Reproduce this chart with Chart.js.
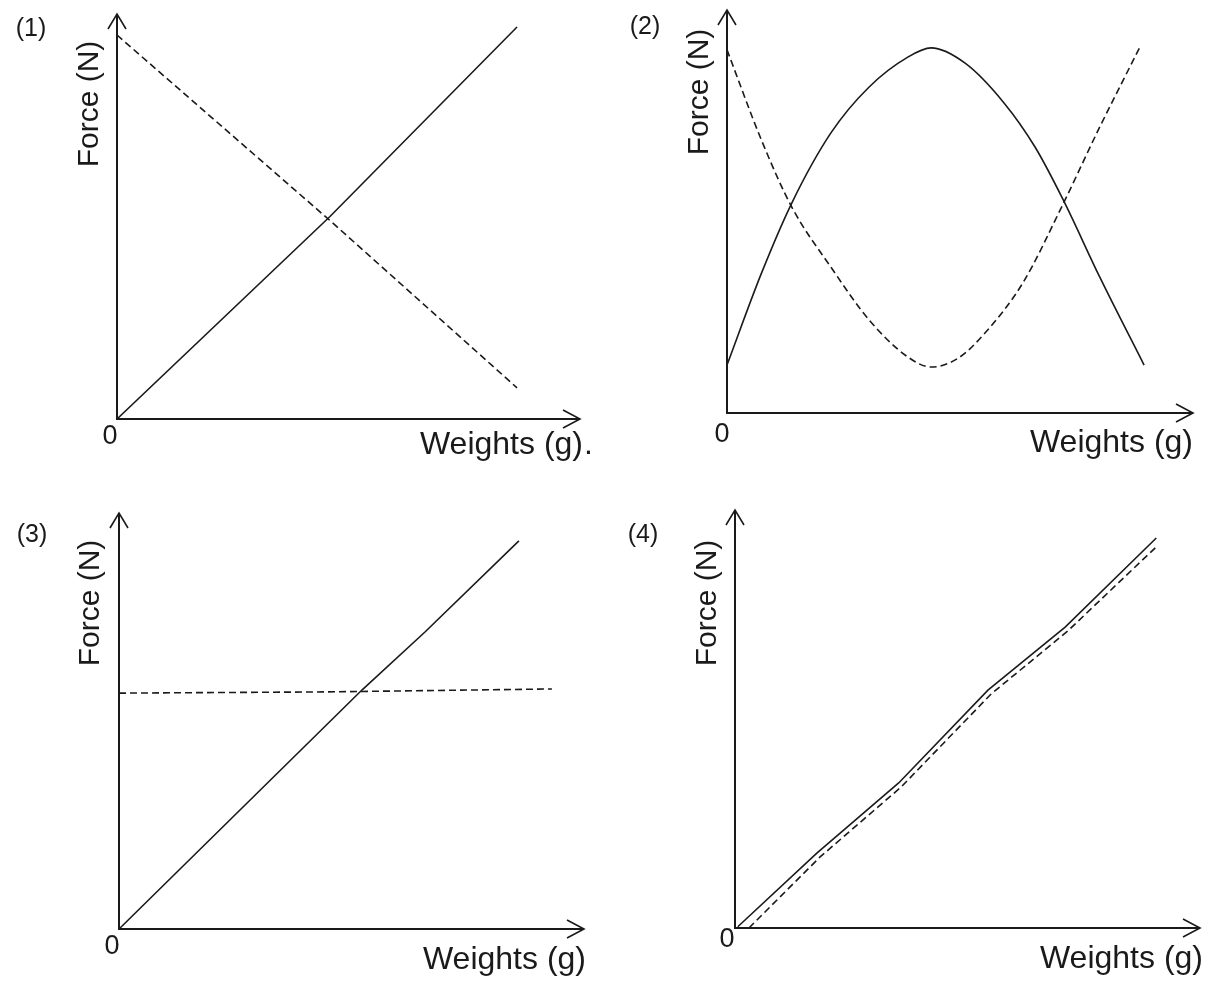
<!DOCTYPE html>
<html>
<head>
<meta charset="utf-8">
<script src="https://cdn.jsdelivr.net/npm/chart.js@4/dist/chart.umd.min.js"></script>
<style>
  html, body { margin: 0; padding: 0; background: #fff; }
  body { position: relative; width: 1208px; height: 989px; overflow: hidden; }
  canvas { position: absolute; }
</style>
</head>
<body>
<canvas id="g1" width="604" height="495" style="left:0;top:0"></canvas>
<canvas id="g2" width="604" height="495" style="left:604px;top:0"></canvas>
<canvas id="g3" width="604" height="494" style="left:0;top:495px"></canvas>
<canvas id="g4" width="604" height="494" style="left:604px;top:495px"></canvas>
<script>
'use strict';

// axis range (arbitrary units, no ticks shown)
const axisMin = 0;
const axisMax = 10;

const xTitle = 'Weights (g)';
const yTitle = 'Force (N)';
const panelTags = ['(1)', '(2)', '(3)', '(4)'];

// (1) one force rises, the other falls
const g1Solid  = [[0, 0], [4.6, 5.0], [8.64, 9.68]];
const g1Dashed = [[0, 9.48], [4.6, 4.9], [8.64, 0.77]];

// (2) hump and dip
const g2Solid = [[0, 1.19], [0.74, 3.47], [1.39, 5.21], [2.23, 6.95], [3.05, 8.09], [3.88, 8.83],
  [4.38, 9.06], [5.11, 8.68], [5.94, 7.7], [6.61, 6.6], [7.21, 5.3], [8.0, 3.37], [8.95, 1.19]];
const g2Dashed = [[0, 9.01], [0.74, 6.77], [1.39, 5.11], [2.23, 3.62], [3.05, 2.31], [3.88, 1.39],
  [4.38, 1.14], [4.96, 1.36], [5.54, 1.99], [6.35, 3.23], [7.18, 5.11], [8.0, 7.1], [8.86, 9.08]];

// (3) rising vs constant
const g3Solid  = [[0, 0], [5.23, 5.75], [6.58, 7.14], [8.6, 9.33]];
const g3Dashed = [[0, 5.67], [4.5, 5.7], [9.31, 5.77]];

// (4) almost equal
const g4Solid  = [[0.06, 0.03], [1.76, 1.79], [3.52, 3.47], [5.44, 5.69], [7.1, 7.2], [9.06, 9.33]];
const g4Dashed = [[0.3, 0], [1.83, 1.7], [3.57, 3.37], [5.51, 5.6], [7.16, 7.11], [9.1, 9.16]];

const INK = '#1a1a1a';
const FONT = '"Liberation Sans", Arial, sans-serif';

// per panel: canvas padding + where the labels sit around the axes
const panels = [
  { id: 'g1', solid: g1Solid, dashed: g1Dashed, smooth: false,
    pad: { left: 117, top: 14, right: 24, bottom: 76 },
    tag: [31, 29], zero: [-7, 18], xt: [3, 26], yt: [-27, 90], dot: true },
  { id: 'g2', solid: g2Solid, dashed: g2Dashed, smooth: true,
    pad: { left: 123, top: 10, right: 15, bottom: 82 },
    tag: [41, 27], zero: [-5, 22], xt: [0, 30], yt: [-27, 82] },
  { id: 'g3', solid: g3Solid, dashed: g3Dashed, smooth: false,
    pad: { left: 119, top: 18, right: 20, bottom: 60 },
    tag: [32, 40], zero: [-7, 18], xt: [2, 31], yt: [-28, 90] },
  { id: 'g4', solid: g4Solid, dashed: g4Dashed, smooth: false,
    pad: { left: 131, top: 15, right: 8, bottom: 61 },
    tag: [39, 40], zero: [-8, 12], xt: [3, 31], yt: [-27, 93] }
];

const toXY = arr => arr.map(([x, y]) => ({ x, y }));

function arrow(ctx, tx, ty, dir) {
  // open V arrowhead, dir = 'up' | 'right'
  ctx.beginPath();
  if (dir === 'up') {
    ctx.moveTo(tx - 9, ty + 15); ctx.lineTo(tx, ty); ctx.lineTo(tx + 9, ty + 15);
  } else {
    ctx.moveTo(tx - 17, ty - 9); ctx.lineTo(tx, ty); ctx.lineTo(tx - 17, ty + 9);
  }
  ctx.stroke();
}

const axesPlugin = {
  id: 'axesPlugin',
  afterDraw(chart, args, opts) {
    const p = opts.panel;
    const ctx = chart.ctx;
    const { left, right, top, bottom } = chart.chartArea;
    ctx.save();
    ctx.strokeStyle = INK;
    ctx.fillStyle = INK;
    ctx.lineWidth = 2;
    ctx.setLineDash([]);
    ctx.beginPath();
    ctx.moveTo(left, top + 1); ctx.lineTo(left, bottom); ctx.lineTo(right - 1, bottom);
    ctx.stroke();
    ctx.lineWidth = 1.6;
    arrow(ctx, left, top, 'up');
    arrow(ctx, right, bottom, 'right');

    ctx.textBaseline = 'middle';
    // panel tag
    ctx.font = '25px ' + FONT;
    ctx.textAlign = 'center';
    ctx.fillText(p.tag0, p.tag[0], p.tag[1]);
    // origin
    ctx.font = '27px ' + FONT;
    ctx.fillText('0', left + p.zero[0], bottom + p.zero[1]);
    // x title
    ctx.font = '32px ' + FONT;
    ctx.textAlign = 'right';
    ctx.fillText(xTitle, right + p.xt[0], bottom + p.xt[1]);
    if (p.dot) ctx.fillText('.', right + p.xt[0] + 10, bottom + p.xt[1]);
    // y title
    ctx.translate(left + p.yt[0], top + p.yt[1]);
    ctx.rotate(-Math.PI / 2);
    ctx.textAlign = 'center';
    ctx.font = '30px ' + FONT;
    ctx.fillText(yTitle, 0, 0);
    ctx.restore();
  }
};

panels.forEach((p, i) => {
  p.tag0 = panelTags[i];
  const lineOpts = p.smooth ? { cubicInterpolationMode: 'monotone' } : { tension: 0 };
  new Chart(document.getElementById(p.id), {
    type: 'line',
    data: {
      datasets: [
        Object.assign({ data: toXY(p.solid), borderColor: INK, borderWidth: 1.6, pointRadius: 0,
          fill: false }, lineOpts),
        Object.assign({ data: toXY(p.dashed), borderColor: INK, borderWidth: 1.6, pointRadius: 0,
          borderDash: [7, 4], fill: false }, lineOpts)
      ]
    },
    options: {
      responsive: false,
      animation: false,
      layout: { padding: p.pad },
      scales: {
        x: { type: 'linear', min: axisMin, max: axisMax, display: false },
        y: { type: 'linear', min: axisMin, max: axisMax, display: false }
      },
      plugins: {
        legend: { display: false },
        tooltip: { enabled: false },
        axesPlugin: { panel: p }
      }
    },
    plugins: [axesPlugin]
  });
});
</script>
</body>
</html>
